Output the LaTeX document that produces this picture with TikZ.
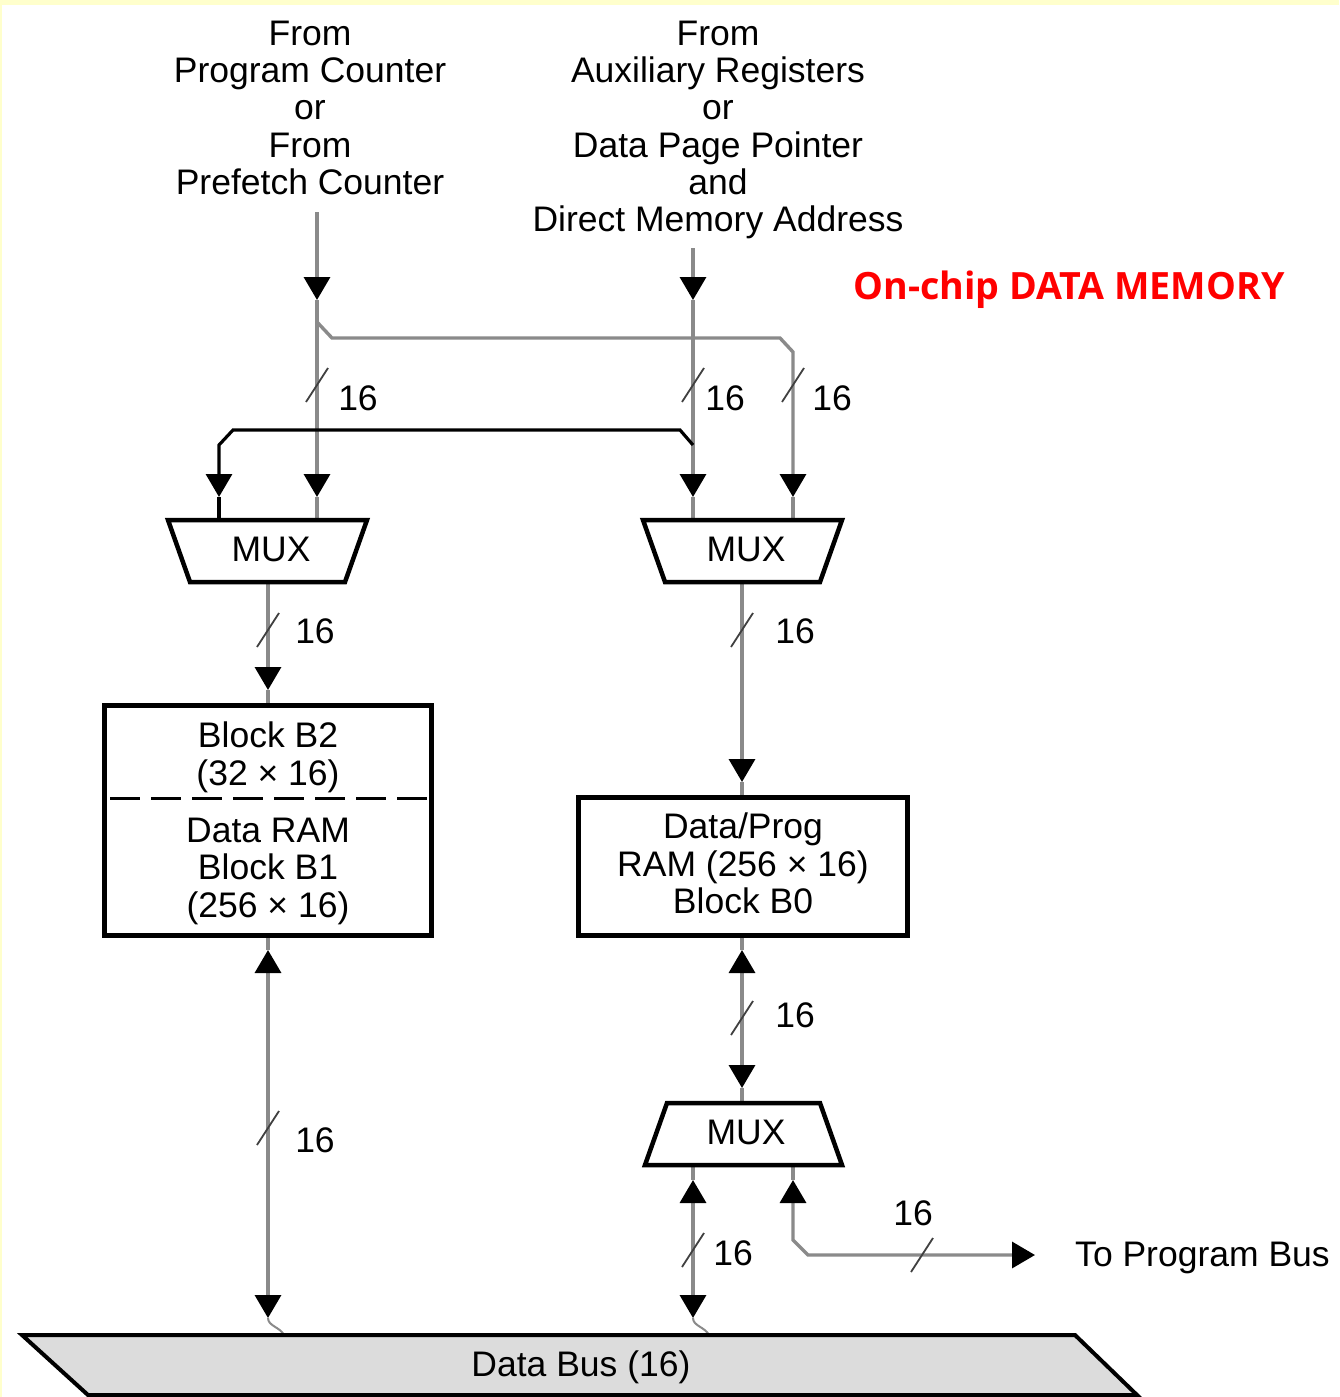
\documentclass[tikz,border=0pt]{standalone}
\usepackage{fontspec}
\setmainfont{Liberation Sans}
\newfontfamily\titlefont{Open Sans}
\usetikzlibrary{arrows.meta}

\definecolor{wiregray}{HTML}{8A8A8A}
\definecolor{busfill}{HTML}{DCDCDC}
\definecolor{pagetint}{HTML}{FFFFCC}

% bus-width tick across a vertical or horizontal line
\newcommand{\widthmark}[2]{\draw[widthtick] (#1-11,#2+17) -- (#1+11,#2-17);}

\begin{document}
\begin{tikzpicture}[x=1pt,y=-1pt,
  wire/.style={draw=wiregray,line width=3.4pt},
  ctl/.style={draw=black,line width=3.2pt},
  arrowend/.style={-{Triangle[length=23pt,width=26pt,color=black]}},
  arrowboth/.style={{Triangle[length=23pt,width=26pt,color=black]}-{Triangle[length=23pt,width=26pt,color=black]}},
  widthtick/.style={draw=black!75,line width=1.8pt},
  lbl/.style={font=\fontsize{35.5}{37.3}\selectfont,inner sep=0pt,align=center},
  num/.style={font=\fontsize{35.5}{37.3}\selectfont,inner sep=0pt,anchor=base},
  blockbox/.style={draw=black,line width=5pt,fill=white},
  muxbox/.style={draw=black,line width=4.5pt,fill=white,line join=miter},
]
% page
\fill[white] (0,0) rectangle (1339,1397);
\fill[pagetint] (0,0) rectangle (1339,5);
\fill[pagetint] (0,0) rectangle (2,1397);
\useasboundingbox (0,0) rectangle (1339,1397);

% source labels
\node[lbl,anchor=north] (src1) at (310,20.5) {From\\Program Counter\\or\\From\\Prefetch Counter};
\node[lbl,anchor=north] (src2) at (718,20.5) {From\\Auxiliary Registers\\or\\Data Page Pointer\\and\\Direct Memory Address};
\node[font=\titlefont\bfseries\fontsize{37.6}{42}\selectfont,text=red,inner sep=0pt,anchor=base] (title) at (1069,299) {On-chip DATA MEMORY};

% connection points
\coordinate (a1) at (317,212);  \coordinate (a1t) at (317,300);
\coordinate (br1) at (317,322);
\coordinate (a2) at (693,248);  \coordinate (a2t) at (693,300);
\coordinate (br2) at (693,445);
\coordinate (m1a) at (219,497); \coordinate (m1ain) at (219,520);
\coordinate (m1b) at (317,497); \coordinate (m1bin) at (317,520);
\coordinate (m2a) at (693,497); \coordinate (m2ain) at (693,520);
\coordinate (m2b) at (793,497); \coordinate (m2bin) at (793,520);
\coordinate (m1out) at (268,582); \coordinate (b2t) at (268,690); \coordinate (b2in) at (268,705);
\coordinate (m2out) at (742,582); \coordinate (b0t) at (742,782); \coordinate (b0in) at (742,797);
\coordinate (b0out) at (742,935); \coordinate (b0up) at (742,950);
\coordinate (m3t) at (742,1088); \coordinate (m3in) at (742,1103);
\coordinate (b1out) at (268,935); \coordinate (b1up) at (268,950);
\coordinate (d1t) at (268,1318); \coordinate (d1) at (284,1335);
\coordinate (m3a) at (693,1165); \coordinate (m3aup) at (693,1180);
\coordinate (d2t) at (693,1318); \coordinate (d2) at (709,1335);
\coordinate (m3b) at (793,1165); \coordinate (m3bup) at (793,1180);
\coordinate (pb) at (1035,1255);

% address paths into the upper multiplexers
\draw[wire,arrowend] (a1) -- (a1t);
\draw[wire,arrowend] (a1t) -- (m1b);
\draw[wire] (m1b) -- (m1bin);
\draw[wire,arrowend] (br1) -- (332,338) -- (780,338) -- (793,352) -- (m2b);
\draw[wire] (m2b) -- (m2bin);
\draw[wire,arrowend] (a2) -- (a2t);
\draw[wire,arrowend] (a2t) -- (m2a);
\draw[wire] (m2a) -- (m2ain);
\draw[ctl,arrowend] (br2) -- (680,430) -- (233,430) -- (219,445) -- (m1a);
\draw[ctl] (m1a) -- (m1ain);

% multiplexer outputs into the RAM blocks
\draw[wire,arrowend] (m1out) -- (b2t);
\draw[wire] (b2t) -- (b2in);
\draw[wire,arrowend] (m2out) -- (b0t);
\draw[wire] (b0t) -- (b0in);

% B0 <-> lower multiplexer
\draw[wire] (b0out) -- (b0up);
\draw[wire,arrowboth] (b0up) -- (m3t);
\draw[wire] (m3t) -- (m3in);

% B1/B2 <-> data bus
\draw[wire] (b1out) -- (b1up);
\draw[wire,arrowboth] (b1up) -- (d1t);
\draw[wire,line width=2pt] (d1t) .. controls (268,1326) and (280,1327) .. (d1);

% lower multiplexer <-> data bus
\draw[wire] (m3a) -- (m3aup);
\draw[wire,arrowboth] (m3aup) -- (d2t);
\draw[wire,line width=2pt] (d2t) .. controls (693,1326) and (705,1327) .. (d2);

% lower multiplexer -> program bus
\draw[wire] (m3b) -- (m3bup);
\draw[wire,arrowboth] (m3bup) -- (793,1240) -- (808,1255) -- (pb);
\node[lbl,anchor=base west] (progbus) at (1075,1266) {To Program Bus};

% bus width marks
\widthmark{317}{385}
\widthmark{693}{385}
\widthmark{793}{385}
\widthmark{268}{630}
\widthmark{742}{630}
\widthmark{742}{1018}
\widthmark{268}{1128}
\widthmark{693}{1250}
\widthmark{922}{1255}
\node[num] (w1) at (358,410) {16};
\node[num] (w2) at (725,410) {16};
\node[num] (w3) at (832,410) {16};
\node[num] (w4) at (315,643) {16};
\node[num] (w5) at (795,643) {16};
\node[num] (w6) at (795,1027) {16};
\node[num] (w7) at (315,1152) {16};
\node[num] (w8) at (733,1265) {16};
\node[num] (w9) at (913,1225) {16};

% multiplexers
\draw[muxbox] (168,520) -- (367,520) -- (345,582) -- (190,582) -- cycle;
\node[num] (mux1) at (271,561) {MUX};
\draw[muxbox] (643,520) -- (842,520) -- (820,582) -- (665,582) -- cycle;
\node[num] (mux2) at (746,561) {MUX};
\draw[muxbox] (667,1103) -- (820,1103) -- (842,1165) -- (645,1165) -- cycle;
\node[num] (mux3) at (746,1144) {MUX};

% RAM blocks
\draw[blockbox] (104,705) rectangle (431,935);
\draw[line width=3pt,dash pattern=on 30pt off 11pt,dash phase=-4pt] (106,798) -- (429,798);
\node[lbl,anchor=north] (b2) at (268,722) {Block B2\\(32 × 16)};
\node[lbl,anchor=north] (b1) at (268,818) {Data RAM\\Block B1\\(256 × 16)};
\draw[blockbox] (578,797) rectangle (907,935);
\node[lbl,anchor=north] (b0) at (743,813) {Data/Prog\\RAM (256 × 16)\\Block B0};

% data bus
\draw[draw=black,line width=4pt,fill=busfill,line join=miter] (22,1335) -- (1075,1335) -- (1137,1395) -- (88,1395) -- cycle;
\node[num] (databus) at (581,1376) {Data Bus (16)};
\end{tikzpicture}
\end{document}
